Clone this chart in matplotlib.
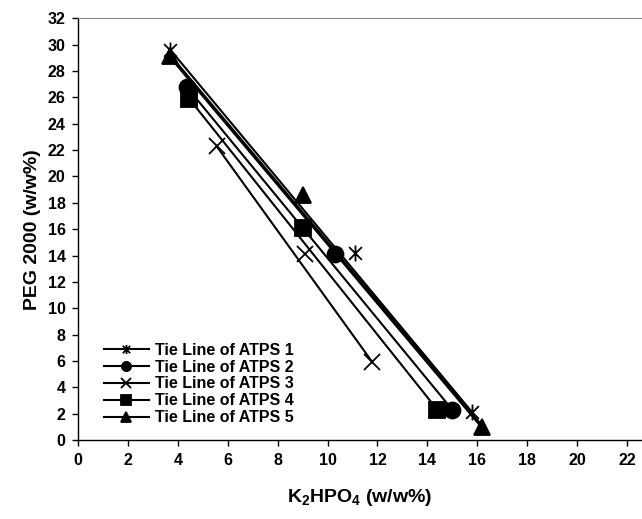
import numpy as np
import matplotlib.pyplot as plt
from matplotlib.path import Path

plt.rcParams['font.family'] = ['Liberation Sans', 'DejaVu Sans']
plt.rcParams['mathtext.fontset'] = 'custom'
plt.rcParams['mathtext.rm'] = 'Liberation Sans:bold'
plt.rcParams['mathtext.it'] = 'Liberation Sans:bold'
plt.rcParams['mathtext.bf'] = 'Liberation Sans:bold'

# tie line data: top phase, feed point, bottom phase (K2HPO4, PEG 2000 in w/w%)
labels = ['Tie Line of ATPS 1', 'Tie Line of ATPS 2', 'Tie Line of ATPS 3',
          'Tie Line of ATPS 4', 'Tie Line of ATPS 5']
k2hpo4_1 = [3.7, 11.1, 15.8]
peg_1 = [29.6, 14.2, 2.1]
k2hpo4_2 = [4.35, 10.3, 15.0]
peg_2 = [26.8, 14.1, 2.3]
k2hpo4_3 = [5.55, 9.1, 11.8]
peg_3 = [22.3, 14.1, 5.9]
k2hpo4_4 = [4.45, 9.0, 14.4]
peg_4 = [25.9, 16.1, 2.3]
k2hpo4_5 = [3.7, 9.0, 16.2]
peg_5 = [29.1, 18.6, 1.0]

# x with a vertical bar through it
star = Path([(-1, -1), (1, 1), (-1, 1), (1, -1), (0, -1.25), (0, 1.25)],
            [Path.MOVETO, Path.LINETO, Path.MOVETO, Path.LINETO,
             Path.MOVETO, Path.LINETO])

xs = [k2hpo4_1, k2hpo4_2, k2hpo4_3, k2hpo4_4, k2hpo4_5]
ys = [peg_1, peg_2, peg_3, peg_4, peg_5]
markers = [star, 'o', 'x', 's', '^']
widths = [1.5, 1.5, 1.5, 1.5, 2.6]

fig = plt.figure(figsize=(6.42, 5.19), dpi=100)
ax = fig.add_axes([0.1215, 0.152, 0.8785, 0.813])

for x, y, m, lw, lab in zip(xs, ys, markers, widths, labels):
    # tie line joins the two phase compositions, markers at all points
    ax.plot([x[0], x[-1]], [y[0], y[-1]], color='black', lw=lw, zorder=2)
    ax.plot(x, y, linestyle='none', marker=m, color='black', ms=11.5,
            mew=1.3, zorder=3)
    ax.plot([], [], color='black', lw=1.5, marker=m, ms=11, mew=1.3, label=lab)

ax.set_xlim(0, 22.6)
ax.set_ylim(0, 32)
ax.set_xticks(np.arange(0, 23, 2))
ax.set_yticks(np.arange(0, 33, 2))
ax.tick_params(direction='out', length=4, width=1, labelsize=11.5, pad=5)
for t in ax.get_xticklabels() + ax.get_yticklabels():
    t.set_fontweight('bold')
ax.spines['right'].set_visible(False)
ax.spines['top'].set_color('#888888')
ax.spines['left'].set_linewidth(1)
ax.spines['bottom'].set_linewidth(1)

ax.set_xlabel(r'K$_2$HPO$_4$ (w/w%)', fontsize=14, fontweight='bold', labelpad=14)
ax.set_ylabel('PEG 2000 (w/w%)', fontsize=14, fontweight='bold', labelpad=5)

ax.legend(loc='lower left', bbox_to_anchor=(0.035, 0.02), frameon=False,
          prop={'size': 11.5, 'weight': 'bold'}, markerscale=0.6,
          handlelength=2.8, handletextpad=0.4, labelspacing=0.12,
          borderaxespad=0)

fig.savefig('out.png', dpi=100)
